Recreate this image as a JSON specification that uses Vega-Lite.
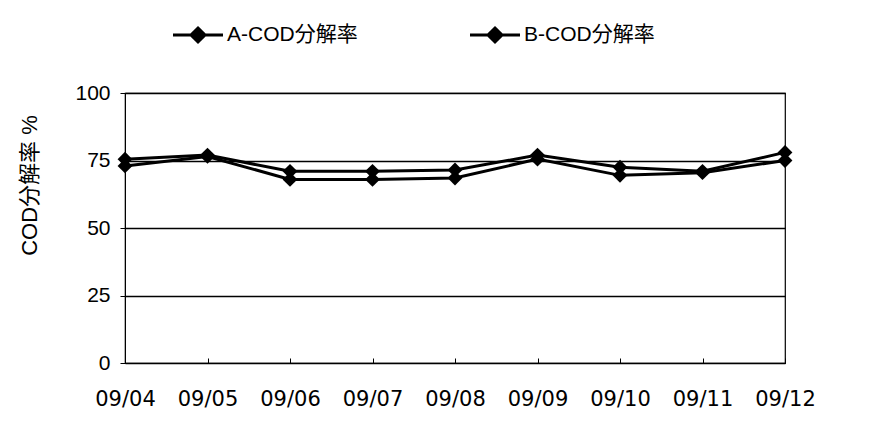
{
  "$schema": "https://vega.github.io/schema/vega-lite/v6.json",
  "autosize": "none",
  "width": 660,
  "height": 270,
  "padding": {"left": 125, "top": 93, "right": 97, "bottom": 65},
  "background": "white",
  "config": {
    "font": "Liberation Sans, Noto Sans CJK JP",
    "view": {"stroke": "black", "strokeWidth": 1.2}
  },
  "data": {
    "values": [
      {"date": "09/04", "series": "A-COD分解率", "value": 75.5},
      {"date": "09/05", "series": "A-COD分解率", "value": 77},
      {"date": "09/06", "series": "A-COD分解率", "value": 71},
      {"date": "09/07", "series": "A-COD分解率", "value": 71},
      {"date": "09/08", "series": "A-COD分解率", "value": 71.5},
      {"date": "09/09", "series": "A-COD分解率", "value": 77},
      {"date": "09/10", "series": "A-COD分解率", "value": 72.5},
      {"date": "09/11", "series": "A-COD分解率", "value": 71},
      {"date": "09/12", "series": "A-COD分解率", "value": 78},
      {"date": "09/04", "series": "B-COD分解率", "value": 73},
      {"date": "09/05", "series": "B-COD分解率", "value": 76.5},
      {"date": "09/06", "series": "B-COD分解率", "value": 68},
      {"date": "09/07", "series": "B-COD分解率", "value": 68},
      {"date": "09/08", "series": "B-COD分解率", "value": 68.5},
      {"date": "09/09", "series": "B-COD分解率", "value": 75.5},
      {"date": "09/10", "series": "B-COD分解率", "value": 69.5},
      {"date": "09/11", "series": "B-COD分解率", "value": 70.5},
      {"date": "09/12", "series": "B-COD分解率", "value": 75}
    ]
  },
  "mark": {
    "type": "line",
    "strokeWidth": 3,
    "point": {"shape": "diamond", "size": 220, "filled": true, "opacity": 1}
  },
  "encoding": {
    "x": {
      "field": "date",
      "type": "ordinal",
      "scale": {"type": "point", "padding": 0},
      "axis": {
        "title": null,
        "labelAngle": 0,
        "labelFont": "DejaVu Sans",
        "labelFontSize": 21,
        "labelColor": "black",
        "labelPadding": 30,
        "labelOverlap": false,
        "domain": false,
        "ticks": true,
        "tickSize": -5,
        "tickColor": "black",
        "grid": false
      }
    },
    "y": {
      "field": "value",
      "type": "quantitative",
      "scale": {"domain": [0, 100], "nice": false, "zero": true},
      "axis": {
        "title": "COD分解率  %",
        "titleFontSize": 22,
        "titleFontWeight": "normal",
        "titleColor": "black",
        "titleAngle": -90,
        "titleX": -96,
        "titleY": 92,
        "titleAlign": "center",
        "titleBaseline": "middle",
        "values": [0, 25, 50, 75, 100],
        "labelFontSize": 21,
        "labelColor": "black",
        "labelPadding": 10,
        "tickSize": 5,
        "tickColor": "black",
        "domainColor": "black",
        "grid": true,
        "gridColor": "black",
        "gridWidth": 1.4,
        "gridOpacity": 1
      }
    },
    "color": {
      "field": "series",
      "type": "nominal",
      "scale": {"range": ["black", "black"]},
      "legend": {
        "title": null,
        "orient": "none",
        "direction": "horizontal",
        "legendX": 59,
        "legendY": -72,
        "symbolType": "M-2,0H2M0,-0.56L0.56,0L0,0.56L-0.56,0Z",
        "symbolSize": 625,
        "symbolStrokeWidth": 3,
        "symbolFillColor": "black",
        "symbolStrokeColor": "black",
        "labelFontSize": 21,
        "labelColor": "black",
        "labelOffset": 15,
        "columnPadding": 106
      }
    }
  }
}
